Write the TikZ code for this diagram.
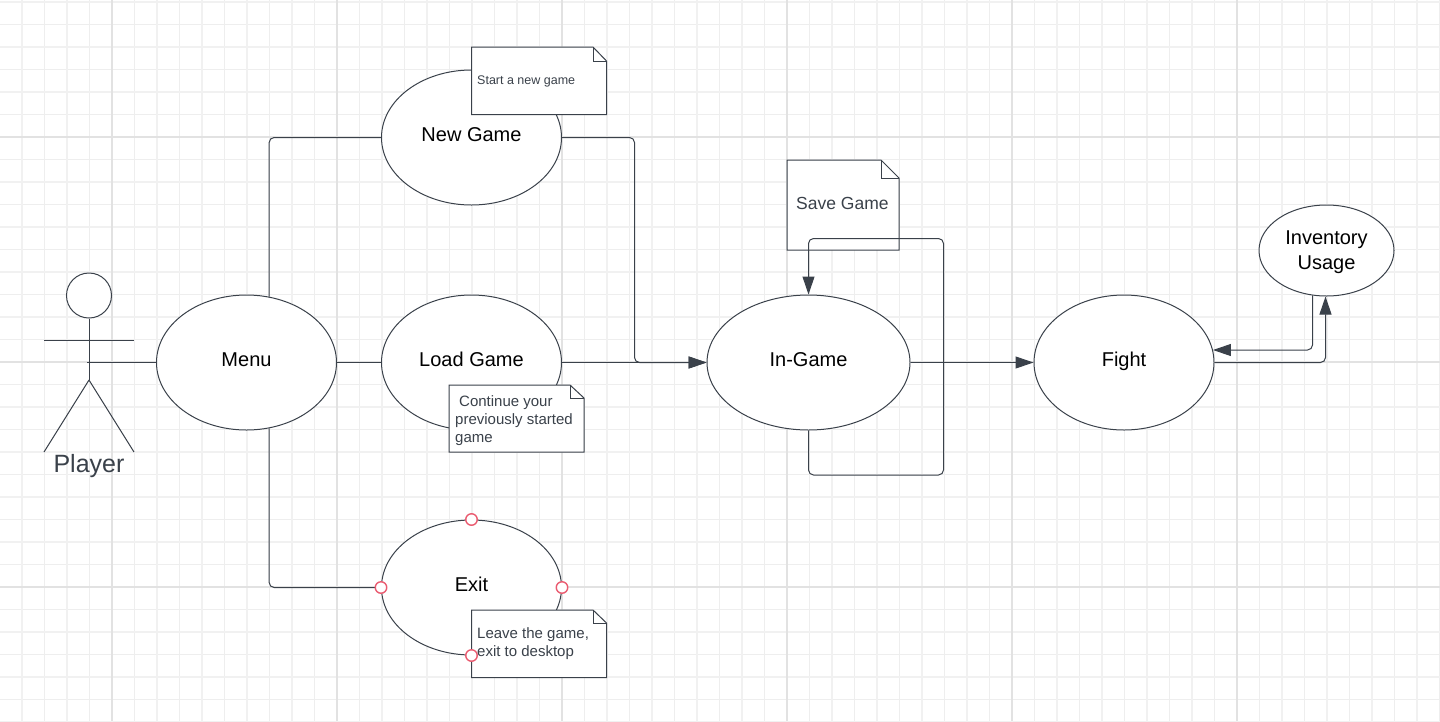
\documentclass[tikz,border=0pt]{standalone}
\usepackage{fontspec}
\setmainfont{Liberation Sans}
\usetikzlibrary{arrows.meta,shapes.geometric}
\definecolor{inkgray}{HTML}{3A414A}
\definecolor{gridmajor}{HTML}{E2E2E2}
\definecolor{gridmid}{HTML}{F1F1F1}
\definecolor{gridthin}{HTML}{EEEEEE}
\definecolor{handlered}{HTML}{EA5B70}
\tikzset{
    usecase/.style={ellipse, draw=inkgray, fill=white, line width=1pt, inner sep=0pt, text=black,
        minimum width=180pt, minimum height=135pt, text height=14pt, text depth=6pt,
        font=\fontsize{20}{25}\selectfont},
    notebox/.style={draw=inkgray, fill=white, line width=1pt},
    notetext/.style={inner sep=0pt, text=inkgray, align=left},
    link/.style={draw=inkgray, line width=1pt, rounded corners=5pt},
    flow/.style={link, -{Triangle[length=18pt,width=12pt,fill=inkgray]}},
    handle/.style={circle, draw=handlered, fill=white, line width=1.4pt, inner sep=0pt, minimum size=11.5pt},
}
\begin{document}
\begin{tikzpicture}[x=1pt, y=-1pt]
    \useasboundingbox (0, 0) rectangle (1440, 721);
    \fill[white] (0, 0) rectangle (1440, 721);

    % grid
    \foreach \k in {0,...,31}{
        \draw[gridthin, line width=1pt](44.5+45*\k, 0) to (44.5+45*\k, 721);
    }
    \foreach \k in {0,...,15}{
        \draw[gridthin, line width=1pt](0, 24.5+45*\k) to (1440, 24.5+45*\k);
    }
    \foreach \k in {0,...,31}{
        \draw[gridmid, line width=2pt](22+45*\k, 0) to (22+45*\k, 721);
    }
    \foreach \k in {0,...,16}{
        \draw[gridmid, line width=2pt](0, 2+45*\k) to (1440, 2+45*\k);
    }
    \foreach \k in {0,...,5}{
        \draw[gridmajor, line width=2pt](112+225*\k, 0) to (112+225*\k, 721);
    }
    \foreach \k in {0,...,2}{
        \draw[gridmajor, line width=2pt](0, 137+225*\k) to (1440, 137+225*\k);
    }

    % use cases
    \node[usecase] (menu) at (246.5, 362.5){Menu};
    \node[usecase] (newgame) at (471.5, 137.5){New Game};
    \node[usecase] (loadgame) at (471.5, 362.5){Load Game};
    \node[usecase] (exitgame) at (471.5, 587.5){Exit};
    \node[usecase, minimum width=203pt] (ingame) at (808.5, 362.5){In-Game};
    \node[usecase] (fight) at (1124, 362.5){Fight};
    \node[usecase, minimum width=135pt, minimum height=91pt, text height=, text depth=, align=center] (inventory) at (1326.5, 250.5){\rule{0pt}{16.5pt}Inventory\\Usage};

    % notes
    \draw[notebox](471.5, 47) to (593, 47) to (606.5, 61) to (606.5, 114.5) to (471.5, 114.5) to cycle;
        \draw[notebox, fill=none](593, 47) to (593, 61) to (606.5, 61);
        \node[notetext, font=\fontsize{12.5}{15}\selectfont, anchor=base west] (newnote) at (477, 84){Start a new game};
    \draw[notebox](787, 160) to (881, 160) to (899, 178) to (899, 250) to (787, 250) to cycle;
        \draw[notebox, fill=none](881, 160) to (881, 178) to (899, 178);
        \node[notetext, font=\fontsize{17.5}{21}\selectfont, anchor=base west] (savenote) at (796, 209){Save Game};
    \draw[notebox](449, 385) to (570, 385) to (584, 398) to (584, 452) to (449, 452) to cycle;
        \draw[notebox, fill=none](570, 385) to (570, 398) to (584, 398);
        \node[notetext, font=\fontsize{15}{18}\selectfont, anchor=north west] (loadnote) at (455, 395){\hspace*{4pt}Continue your\\previously started\\game};
    \draw[notebox](471.5, 610) to (593, 610) to (606.5, 623) to (606.5, 677.5) to (471.5, 677.5) to cycle;
        \draw[notebox, fill=none](593, 610) to (593, 623) to (606.5, 623);
        \node[notetext, font=\fontsize{15}{18}\selectfont, anchor=north west] (exitnote) at (477, 627){Leave the game,\\exit to desktop};

    % player
    \node[circle, draw=inkgray, fill=white, line width=1pt, inner sep=0pt, minimum size=45pt] (head) at (89, 295.5){};
    \coordinate (hip) at (89, 380);
    \coordinate (armleft) at (44, 340.5);
    \coordinate (armright) at (134, 340.5);
    \coordinate (footleft) at (44, 452);
    \coordinate (footright) at (134, 452);
    \coordinate (hand) at (87, 362.5);
    \draw[link](head.south) to (hip);
    \draw[link](armleft) to (armright);
    \draw[link](hip) to (footleft);
    \draw[link](hip) to (footright);
    \node[text=inkgray, inner sep=0pt, font=\fontsize{25}{30}\selectfont] (player) at (89, 466){Player};

    % connectors
    \draw[link](hand) to (menu.west);
    \draw[link](menu.71) |- (newgame.west);
    \draw[link](menu.east) to (loadgame.west);
    \draw[link](menu.-71) |- (exitgame.west);
    \coordinate (newdrop) at (634.5, 362.5);
    \draw[flow](newgame.east) -| (newdrop) to (ingame.west);
    \draw[flow](loadgame.east) to (ingame.west);
    \draw[flow](ingame.east) to (fight.west);
    \coordinate (loopbottom) at (943.5, 475);
    \coordinate (looptop) at (943.5, 238.5);
    \draw[flow](ingame.south) |- (loopbottom) to (looptop) -| (ingame.north);
    \coordinate (fightout) at (1325.5, 362.5);
    \coordinate (invin) at (1325.5, 296.5);
    \draw[flow](fight.east) to (fightout) to (invin);
    \coordinate (invbend) at (1312.5, 350);
    \draw[flow](inventory.251.8 -| invbend) to (invbend) to (invbend -| fight.8);

    % handles
    \node[handle] (handletop) at (exitgame.north){};
    \node[handle] (handleleft) at (exitgame.west){};
    \node[handle] (handleright) at (exitgame.east){};
    \node[handle] (handlebottom) at (exitgame.south){};
\end{tikzpicture}
\end{document}
